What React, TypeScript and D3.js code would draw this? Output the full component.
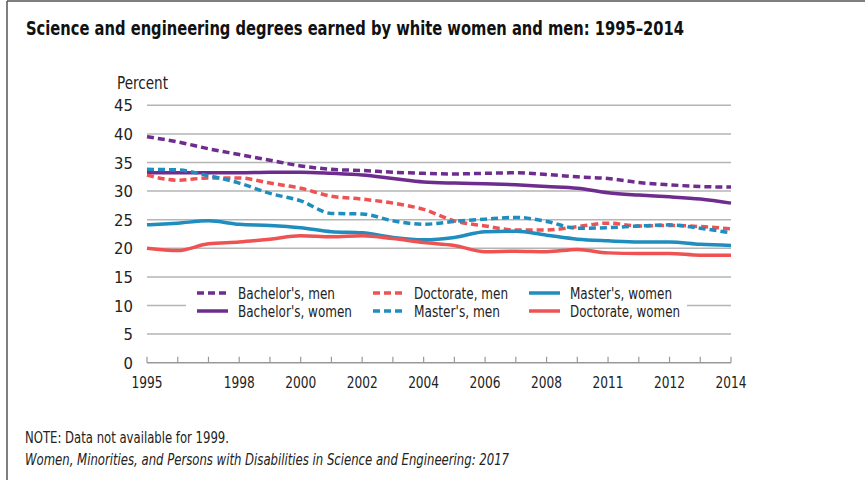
import React from "react";
import * as d3 from "d3";

const slots = d3.range(20); // 1995..2014 tick slots
const tickLabels = [
  { i: 0, t: "1995" }, { i: 3, t: "1998" }, { i: 5, t: "2000" }, { i: 7, t: "2002" },
  { i: 9, t: "2004" }, { i: 11, t: "2006" }, { i: 13, t: "2008" }, { i: 15, t: "2011" },
  { i: 17, t: "2012" }, { i: 19, t: "2014" },
];
const yTicks = [0, 5, 10, 15, 20, 25, 30, 35, 40, 45];

const bachelorsMen = [39.5, 38.6, 37.4, 36.4, 35.4, 34.4, 33.8, 33.6, 33.3, 33.1, 33.0, 33.1, 33.2, 32.9, 32.5, 32.2, 31.5, 31.1, 30.8, 30.7];
const bachelorsWomen = [33.2, 33.2, 33.2, 33.2, 33.3, 33.3, 33.1, 32.8, 32.2, 31.6, 31.4, 31.3, 31.1, 30.8, 30.5, 29.7, 29.3, 29.0, 28.6, 27.9];
const mastersMen = [33.8, 33.7, 32.7, 31.4, 29.6, 28.3, 26.1, 26.0, 24.8, 24.2, 24.7, 25.1, 25.4, 24.7, 23.5, 23.6, 23.9, 24.1, 23.5, 22.7];
const doctorateMen = [32.8, 31.9, 32.3, 32.3, 31.4, 30.5, 29.1, 28.6, 27.9, 26.8, 24.8, 23.9, 23.2, 23.2, 23.8, 24.4, 23.9, 24.0, 23.8, 23.4];
const mastersWomen = [24.1, 24.4, 24.8, 24.2, 24.0, 23.6, 22.9, 22.7, 21.9, 21.5, 21.9, 22.9, 23.0, 22.3, 21.6, 21.3, 21.1, 21.1, 20.7, 20.5];
const doctorateWomen = [20.0, 19.6, 20.8, 21.1, 21.6, 22.2, 22.0, 22.2, 21.7, 21.0, 20.5, 19.4, 19.5, 19.4, 19.8, 19.2, 19.1, 19.1, 18.8, 18.8];

const PURPLE = "#6e2c8f";
const RED = "#ee5253";
const BLUE = "#1f8dbd";

const series = [
  { name: "Bachelor's, men", values: bachelorsMen, color: PURPLE, dashed: true },
  { name: "Bachelor's, women", values: bachelorsWomen, color: PURPLE, dashed: false },
  { name: "Doctorate, men", values: doctorateMen, color: RED, dashed: true },
  { name: "Master's, men", values: mastersMen, color: BLUE, dashed: true },
  { name: "Master's, women", values: mastersWomen, color: BLUE, dashed: false },
  { name: "Doctorate, women", values: doctorateWomen, color: RED, dashed: false },
];

const legendTextWidths = [97, 114, 94, 86, 102, 110];

const FONT = "'Liberation Sans Narrow', 'DejaVu Sans Condensed', 'Arial Narrow', sans-serif";

export default function App() {
  const x = d3.scaleLinear().domain([0, 19]).range([147, 731]);
  const y = d3.scaleLinear().domain([0, 45]).range([362.7, 105.3]);
  const line = d3
    .line<number>()
    .x((_, i) => x(i))
    .y((d) => y(d))
    .curve(d3.curveMonotoneX);

  const legendCols = [197, 373, 529];
  const legendRows = [293, 311];
  const legendOrder = [
    { s: 0, c: 0, r: 0 },
    { s: 1, c: 0, r: 1 },
    { s: 2, c: 1, r: 0 },
    { s: 3, c: 1, r: 1 },
    { s: 4, c: 2, r: 0 },
    { s: 5, c: 2, r: 1 },
  ];

  return (
    <svg
      width={865}
      height={480}
      style={{ position: "absolute", left: 0, top: 0, background: "#fff" }}
      fontFamily={FONT}
    >
      <rect x={0} y={0} width={865} height={480} fill="#fff" />
      <line x1={7} x2={865} y1={1} y2={1} stroke="#555" strokeWidth={1.5} />
      <line x1={7} x2={7} y1={1} y2={480} stroke="#555" strokeWidth={1.5} />

      <text x={26} y={35} fontSize={19.5} fontWeight="bold" fill="#111" textLength={658} lengthAdjust="spacingAndGlyphs">
        Science and engineering degrees earned by white women and men: 1995–2014
      </text>

      <text x={117} y={89} fontSize={18} fill="#222" textLength={51} lengthAdjust="spacingAndGlyphs">Percent</text>

      {yTicks.map((t) => (
        <g key={t}>
          {t > 0 && (
            <line x1={x(0)} x2={x(19)} y1={y(t)} y2={y(t)} stroke="#b5b5b5" strokeWidth={1.5} />
          )}
          <text x={133} y={y(t) + 6} fontSize={16.5} textAnchor="end" fill="#222">
            {t}
          </text>
        </g>
      ))}

      <line x1={x(0)} x2={x(19)} y1={y(0)} y2={y(0)} stroke="#999" strokeWidth={1.5} />
      {slots.map((i) => (
        <line key={i} x1={x(i)} x2={x(i)} y1={y(0)} y2={y(0) - 6} stroke="#999" strokeWidth={1.2} />
      ))}
      {tickLabels.map((d) => (
        <text key={d.t} x={x(d.i)} y={388} fontSize={16.5} textAnchor="middle" fill="#222" textLength={31} lengthAdjust="spacingAndGlyphs">
          {d.t}
        </text>
      ))}

      {series.map((s) => (
        <path
          key={s.name}
          d={line(s.values) || ""}
          fill="none"
          stroke={s.color}
          strokeWidth={3.5}
          strokeDasharray={s.dashed ? "7,4" : undefined}
        />
      ))}

      <rect x={186} y={283} width={501} height={40} fill="#fff" />
      {legendOrder.map((l) => {
        const s = series[l.s];
        const lx = legendCols[l.c];
        const ly = legendRows[l.r];
        return (
          <g key={s.name}>
            <line
              x1={lx}
              x2={lx + 31}
              y1={ly}
              y2={ly}
              stroke={s.color}
              strokeWidth={3.5}
              strokeDasharray={s.dashed ? "7,4" : undefined}
            />
            <text
              x={lx + 41}
              y={ly + 6}
              fontSize={16.5}
              fill="#222"
              textLength={legendTextWidths[l.s]}
              lengthAdjust="spacingAndGlyphs"
            >
              {s.name}
            </text>
          </g>
        );
      })}

      <text x={25} y={443} fontSize={15.5} fill="#222" textLength={204} lengthAdjust="spacingAndGlyphs">
        NOTE: Data not available for 1999.
      </text>
      <text x={25} y={465} fontSize={15.5} fontStyle="italic" fill="#222" textLength={484} lengthAdjust="spacingAndGlyphs">
        Women, Minorities, and Persons with Disabilities in Science and Engineering: 2017
      </text>
    </svg>
  );
}
